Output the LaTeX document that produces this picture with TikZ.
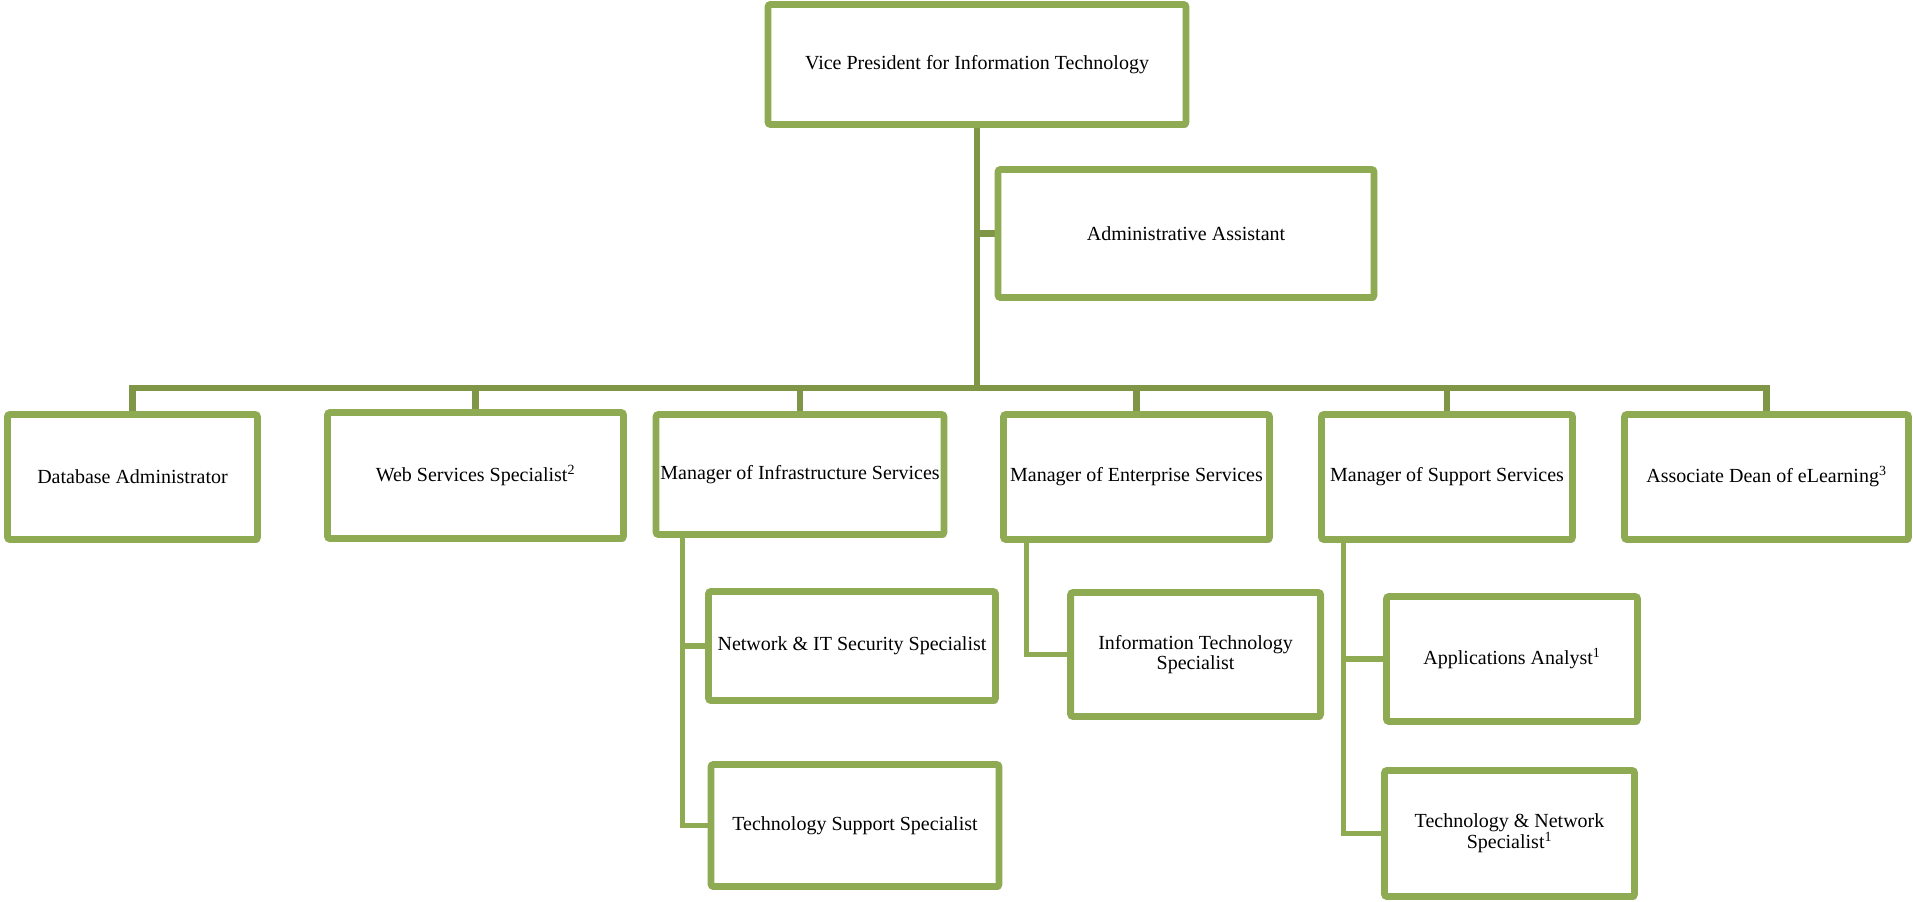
\documentclass[tikz,border=0pt]{standalone}
\usepackage{fontspec}
\setmainfont{Liberation Serif}
\usetikzlibrary{shadows,backgrounds}
\definecolor{boxgreen}{RGB}{142,170,82}
\definecolor{linkgreen}{RGB}{126,150,70}
\tikzset{
    orgbox/.style={draw=boxgreen, line width=5.2pt, fill=white, rounded corners=2pt,
        align=center, inner sep=0pt, font=\fontsize{15}{15.5}\selectfont,
        drop shadow={shadow xshift=1.5pt, shadow yshift=-2.5pt, opacity=0.3, fill=black}},
    boxsize/.style 2 args={minimum width=#1, minimum height=#2},
    link/.style={draw=linkgreen, line width=4.8pt},
    sublink/.style={draw=boxgreen, line width=3.8pt},
}
\begin{document}
\begin{tikzpicture}[x=0.75pt,y=0.75pt,yscale=-1,xscale=1]
    \useasboundingbox (0,0) rectangle (1913,902);
    % top of the chart
    \node[orgbox, boxsize={313.5pt}{90pt}] (vp) at (977,64.5) {Vice President for Information Technology};
    \node[orgbox, boxsize={282pt}{96pt}] (admin) at (1186,233.5) {Administrative Assistant};
    % direct reports
    \node[orgbox, boxsize={187.5pt}{93.75pt}] (db) at (132.5,477) {Database Administrator};
    \node[orgbox, boxsize={222pt}{94.5pt}] (web) at (475.5,475.5) {Web Services Specialist\textsuperscript{2}};
    \node[orgbox, boxsize={216pt}{90pt}] (infra) at (800,474.5) {Manager of Infrastructure Services};
    \node[orgbox, boxsize={199.5pt}{93.75pt}] (ent) at (1136.5,477) {Manager of Enterprise Services};
    \node[orgbox, boxsize={188.25pt}{93.75pt}] (sup) at (1447,477) {Manager of Support Services};
    \node[orgbox, boxsize={213pt}{93.75pt}] (dean) at (1766.5,477) {Associate Dean of eLearning\textsuperscript{3}};
    % staff
    \node[orgbox, boxsize={215.25pt}{81.75pt}] (netsec) at (852,646) {Network \& IT Security Specialist};
    \node[orgbox, boxsize={216pt}{91.5pt}] (techsup) at (855,825.5) {Technology Support Specialist};
    \node[orgbox, boxsize={187.5pt}{93pt}] (itspec) at (1195.6,654.5) {Information Technology\\Specialist};
    \node[orgbox, boxsize={188.25pt}{93.75pt}] (apps) at (1512,659) {Applications Analyst\textsuperscript{1}};
    \node[orgbox, boxsize={187.5pt}{94.5pt}] (technet) at (1509.5,833.5) {Technology \& Network\\Specialist\textsuperscript{1}};
    % connectors
    \begin{scope}[on background layer]
        \coordinate (bus) at (977,388);
        \draw[link] (vp.south) -- (bus);
        \draw[link] (vp.south |- admin.west) -- (admin.west);
        \foreach \n in {db,web,infra,ent,sup,dean}
            \draw[link] (bus) -| (\n.north);
        \path (infra.south west) ++(30,0) coordinate (infratap);
        \path (ent.south west) ++(26.5,0) coordinate (enttap);
        \path (sup.south west) ++(25.5,0) coordinate (suptap);
        \draw[sublink] (infratap) |- (netsec.west);
        \draw[sublink] (infratap) |- (techsup.west);
        \draw[sublink] (enttap) |- (itspec.west);
        \draw[sublink] (suptap) |- (apps.west);
        \draw[sublink] (suptap) |- (technet.west);
    \end{scope}
\end{tikzpicture}
\end{document}
